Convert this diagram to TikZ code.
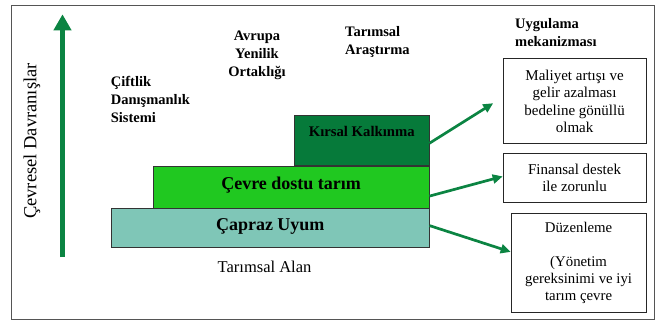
\documentclass[tikz,border=0pt]{standalone}
\usepackage{fontspec}
\setmainfont{Liberation Serif}
\usetikzlibrary{arrows.meta,positioning}
\definecolor{framegray}{HTML}{555555}
\definecolor{arrowgreen}{HTML}{0B8442}
\definecolor{darkgreen}{HTML}{067A3A}
\definecolor{brightgreen}{HTML}{20C820}
\definecolor{tealish}{HTML}{7FC6B7}
\tikzset{
  layerbox/.style={draw=black!80, line width=0.8pt, rectangle, inner sep=0pt, anchor=north west},
  mechbox/.style={draw=black!85, line width=0.8pt, rectangle, inner sep=0pt, anchor=north west, align=center, font=\fontsize{15}{17.5}\selectfont},
  boldlbl/.style={inner sep=0pt, font=\bfseries\fontsize{14.5}{18}\selectfont},
  conn/.style={draw=arrowgreen, line width=2.7pt, -{Triangle[length=10pt,width=9pt]}},
  bigarrow/.style={draw=arrowgreen, line width=5pt, -{Triangle[length=16pt,width=17pt]}, shorten >=0pt},
}
\begin{document}
\begin{tikzpicture}[x=1pt,y=-1pt]
\useasboundingbox (0,0) rectangle (657,321);
% outer frame
\draw[framegray, line width=1pt] (11.5,5.5) rectangle (654.5,319);
% layered boxes
\node[layerbox, fill=darkgreen, minimum width=134.7pt, minimum height=50pt] (kirsal) at (294,115.3) {};
\node[layerbox, fill=brightgreen, minimum width=276pt, minimum height=42pt] (cevre) at (152.7,165.7) {};
\node[layerbox, fill=tealish, minimum width=317.7pt, minimum height=39pt] (capraz) at (111,207.7) {};
\node[boldlbl, font=\bfseries\fontsize{14.7}{18}\selectfont] (kirsaltxt) at ([yshift=-16pt]kirsal.north) {Kırsal Kalkınma};
\node[boldlbl, font=\bfseries\fontsize{18}{20}\selectfont] (cevretxt) at ([yshift=2pt]cevre.center) {Çevre dostu tarım};
\node[boldlbl, font=\bfseries\fontsize{18}{20}\selectfont] (caprazttxt) at ([yshift=1.5pt]capraz.center) {Çapraz Uyum};
% top labels
\node[boldlbl, anchor=west, align=left] (ciftlik) at (110.7,99) {Çiftlik\\Danışmanlık\\Sistemi};
\node[boldlbl, align=center] (avrupa) at (257,55) {Avrupa\\Yenilik\\Ortaklığı};
\node[boldlbl, anchor=west, align=left] (arastirma) at (345,42) {Tarımsal\\Araştırma};
\node[boldlbl, anchor=west, align=left] (uygulama) at (515,33) {Uygulama\\mekanizması};
% bottom label
\node[inner sep=0pt, font=\fontsize{16.5}{18}\selectfont] (alan) at (264.5,267) {Tarımsal Alan};
% vertical label and arrow
\node[inner sep=0pt, rotate=90, font=\fontsize{18.5}{20}\selectfont] (davranis) at (32,141) {Çevresel Davranışlar};
\coordinate (vbot) at (62.5,257);
\coordinate (vtop) at (62.5,14.3);
\draw[bigarrow] (vbot) -- (vtop);
% mechanism boxes
\node[mechbox, minimum width=143pt, minimum height=85pt] (box1) at (502.7,58.3) {Maliyet artışı ve\\gelir azalması\\bedeline gönüllü\\olmak};
\node[mechbox, minimum width=143pt, minimum height=48.4pt] (box2) at (502.7,153.3) {Finansal destek\\ile zorunlu};
\node[mechbox, minimum width=135pt, minimum height=99.6pt, font=\fontsize{14.8}{17}\selectfont] (box3) at (510.7,212.7) {Düzenleme\\[17pt](Yönetim\\gereksinimi ve iyi\\tarım çevre};
% connectors
\draw[conn] ([yshift=-2.5pt]kirsal.east) -- ([xshift=-9.5pt,yshift=-2pt]box1.west);
\draw[conn] ([yshift=-9pt]cevre.east) -- ([yshift=1.5pt]box2.west);
\draw[conn] ([yshift=2pt]capraz.east) -- ([yshift=11pt]box3.west);
\end{tikzpicture}
\end{document}
